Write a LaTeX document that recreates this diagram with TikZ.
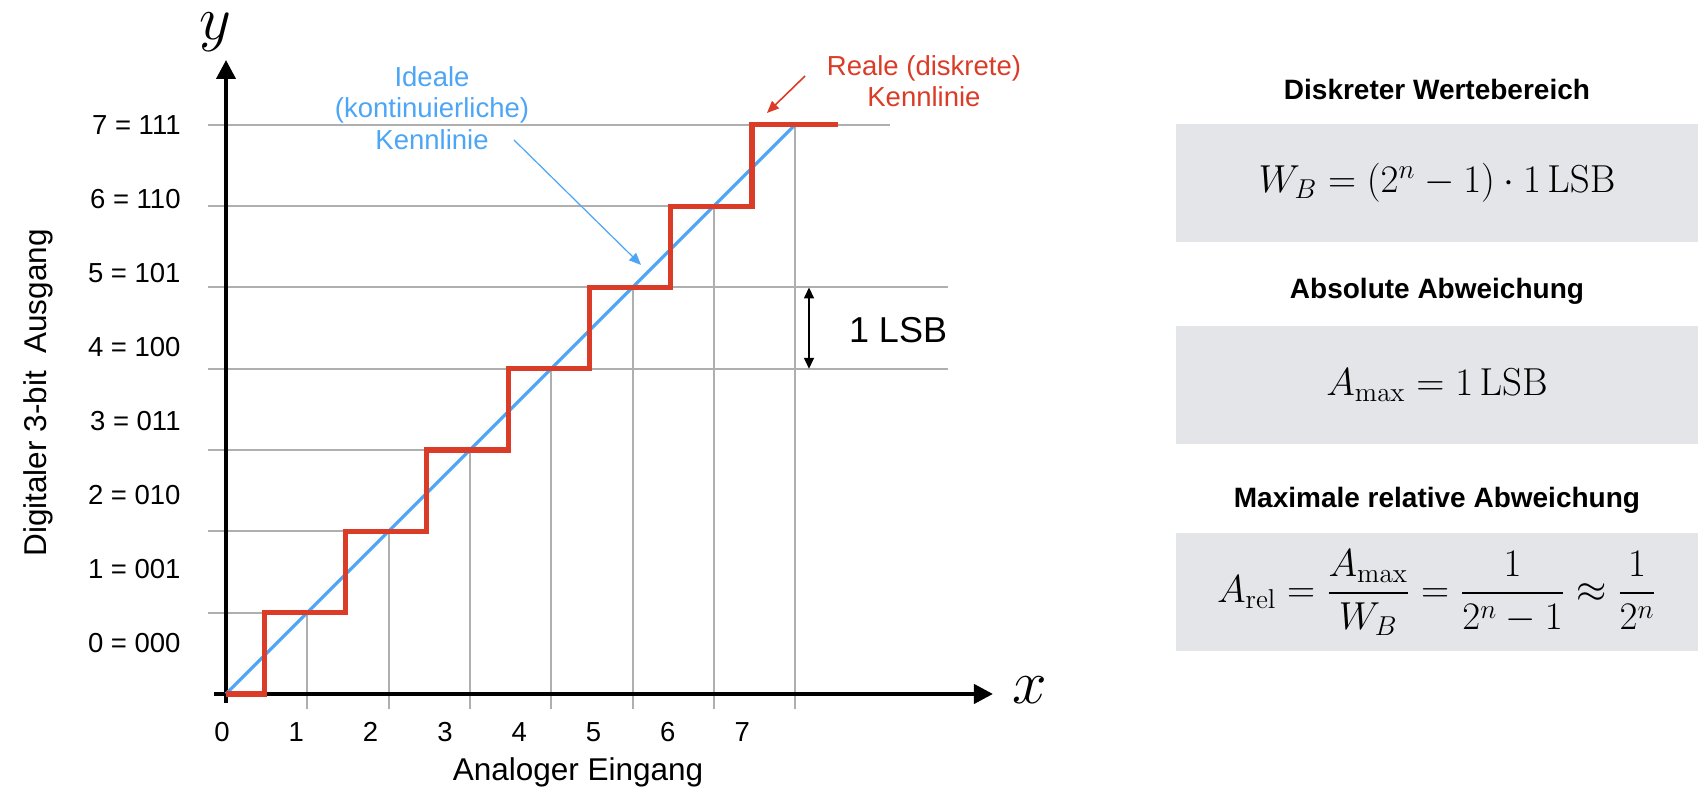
\RequirePackage{fix-cm}
\documentclass[tikz,border=0pt]{standalone}
\usepackage{amsmath}
\usepackage[no-math]{fontspec}
\setmainfont{Liberation Sans}
\usetikzlibrary{arrows.meta}
\definecolor{idealblue}{RGB}{76,165,245}
\definecolor{realred}{RGB}{218,60,40}
\definecolor{gridgray}{RGB}{175,175,175}
\definecolor{boxgray}{RGB}{228,229,232}
\begin{document}
\begin{tikzpicture}[x=40.65pt, y=40.65pt,
        gridline/.style={gridgray, line width=1pt},
        axis/.style={line width=2pt, -{Triangle[length=9.5pt,width=9.5pt]}},
        ideal/.style={idealblue, line width=1.6pt},
        real/.style={realred, line width=2.6pt, line join=miter},
        varlabel/.style={inner sep=0pt, font=\fontsize{31pt}{35pt}\selectfont},
        tick/.style={inner sep=0pt, font=\fontsize{13.75pt}{16pt}\selectfont},
        title/.style={inner sep=0pt, font=\fontsize{15.75pt}{18pt}\selectfont},
        note/.style={align=center, inner sep=0pt, font=\fontsize{13.75pt}{15.75pt}\selectfont},
        formbox/.style={fill=boxgray, minimum width=261pt, minimum height=59pt, inner sep=0pt, font=\fontsize{19.5pt}{23pt}\selectfont},
        head/.style={inner sep=0pt, font=\bfseries\fontsize{14pt}{17pt}\selectfont}]
        \useasboundingbox (-2.780,-1.402) rectangle (18.155,8.536);
        % grid
        \draw[gridline] (-0.221,1) -- (1,1);
        \draw[gridline] (-0.221,2) -- (2,2);
        \draw[gridline] (-0.221,3) -- (3,3);
        \draw[gridline] (-0.221,4) -- (8.881,4);
        \draw[gridline] (-0.221,5) -- (8.881,5);
        \draw[gridline] (-0.221,6) -- (6,6);
        \draw[gridline] (-0.221,7) -- (8.167,7);
        \draw[gridline] (1,-0.185) -- (1,1);
        \draw[gridline] (2,-0.185) -- (2,2);
        \draw[gridline] (3,-0.185) -- (3,3);
        \draw[gridline] (4,-0.185) -- (4,4);
        \draw[gridline] (5,-0.185) -- (5,5);
        \draw[gridline] (6,-0.185) -- (6,6);
        \draw[gridline] (7,-0.185) -- (7,7);
        % axes
        \coordinate (O) at (0,0);
        \coordinate (xend) at (9.434,0);
        \coordinate (yend) at (0,7.798);
        \draw[axis] (-0.148,0) -- (xend);
        \draw[axis] (0,-0.111) -- (yend);
        \node[varlabel] (xlab) at (9.889,0.049) {$x$};
        \node[varlabel] (ylab) at (-0.135,8.14) {$y$};
        % characteristics
        \draw[ideal] (O) -- (7,7);
        \draw[real] (O) -- (0.47,0) -- (0.47,1) -- (1.47,1) -- (1.47,2) -- (2.47,2) -- (2.47,3)
            -- (3.47,3) -- (3.47,4) -- (4.47,4) -- (4.47,5) -- (5.47,5) -- (5.47,6)
            -- (6.47,6) -- (6.47,7) -- (7.528,7);
        % axis labels
        \node[tick, anchor=east] (l0) at (-0.554,0.627) {0 = 000};
        \node[tick, anchor=east] (l1) at (-0.554,1.537) {1 = 001};
        \node[tick, anchor=east] (l2) at (-0.554,2.447) {2 = 010};
        \node[tick, anchor=east] (l3) at (-0.554,3.357) {3 = 011};
        \node[tick, anchor=east] (l4) at (-0.554,4.267) {4 = 100};
        \node[tick, anchor=east] (l5) at (-0.554,5.177) {5 = 101};
        \node[tick, anchor=east] (l6) at (-0.554,6.087) {6 = 110};
        \node[tick, anchor=east] (l7) at (-0.554,6.997) {7 = 111};
        \node[tick] (t0) at (-0.049,-0.467) {0};
        \node[tick] (t1) at (0.865,-0.467) {1};
        \node[tick] (t2) at (1.779,-0.467) {2};
        \node[tick] (t3) at (2.693,-0.467) {3};
        \node[tick] (t4) at (3.607,-0.467) {4};
        \node[tick] (t5) at (4.521,-0.467) {5};
        \node[tick] (t6) at (5.435,-0.467) {6};
        \node[tick] (t7) at (6.349,-0.467) {7};
        \node[title] (xtitle) at (4.330,-0.959) {Analoger Eingang};
        \node[title, rotate=90] (ytitle) at (-2.312,3.702) {Digitaler 3-bit\ \ Ausgang};
        % annotations
        \node[note, idealblue] (idtext) at (2.534,7.208) {Ideale\\(kontinuierliche)\\Kennlinie};
        \coordinate (idtail) at (3.542,6.814);
        \coordinate (idhead) at (5.105,5.277);
        \draw[idealblue, line width=0.6pt, -{Triangle[length=6pt,width=5pt]}] (idtail) -- (idhead);
        \node[note, realred] (retext) at (8.585,7.540) {Reale (diskrete)\\Kennlinie};
        \coordinate (retail) at (7.122,7.601);
        \coordinate (rehead) at (6.654,7.146);
        \draw[realred, line width=0.8pt, -{Triangle[length=6pt,width=5pt]}] (retail) -- (rehead);
        \coordinate (lsbtop) at (7.171,5);
        \coordinate (lsbbot) at (7.171,4);
        \draw[line width=0.8pt, {Triangle[length=5.5pt,width=5pt]}-{Triangle[length=5.5pt,width=5pt]}] (lsbtop) -- (lsbbot);
        \node[inner sep=0pt, font=\fontsize{18pt}{21pt}\selectfont] (lsb) at (8.266,4.477) {1 LSB};
        % formulas
        \node[head] (wbhead) at (14.895,7.429) {Diskreter Wertebereich};
        \node[formbox] (wb) at (14.895,6.286) {$W_B = (2^n - 1)\cdot 1\,\mathrm{LSB}$};
        \node[head] (amaxhead) at (14.895,4.957) {Absolute Abweichung};
        \node[formbox] (amax) at (14.895,3.800) {$A_{\max} = 1\,\mathrm{LSB}$};
        \node[head] (arelhead) at (14.895,2.386) {Maximale relative Abweichung};
        \node[formbox] (arel) at (14.895,1.249) {$A_{\mathrm{rel}} = \dfrac{A_{\max}}{W_B} = \dfrac{1}{2^n-1} \approx \dfrac{1}{2^n}$};
    \end{tikzpicture}
\end{document}
